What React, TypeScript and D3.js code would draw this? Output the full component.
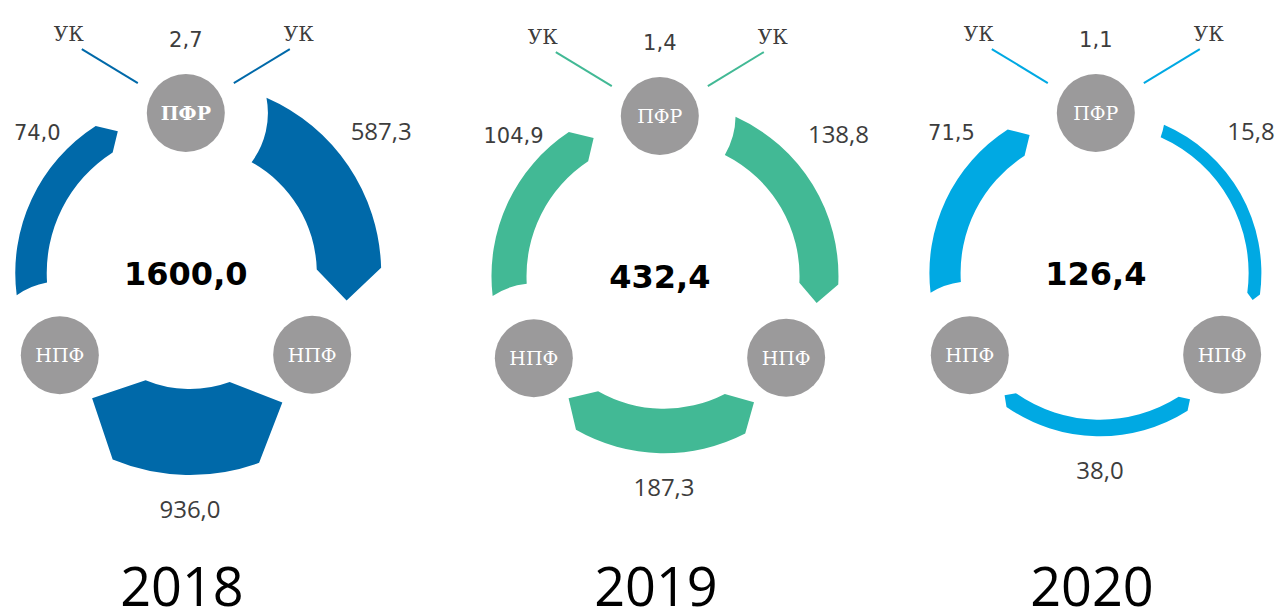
import React from "react";
import * as d3 from "d3";

// ---- data ----
const years = ["2018", "2019", "2020"];
const totals = [1600.0, 432.4, 126.4];
const toUK = [2.7, 1.4, 1.1];
const npfToPfr = [74.0, 104.9, 71.5]; // left arc: НПФ -> ПФР
const pfrToNpf = [587.3, 138.8, 15.8]; // right arc: ПФР -> НПФ
const npfToNpf = [936.0, 187.3, 38.0]; // bottom arc: НПФ <-> НПФ
const seriesColors = ["#0069a9", "#42b995", "#00a9e3"];

// ---- layout ----
const W = 1281;
const H = 611;
const panels = [
  { cx: 190, cy: 273, r: 159 },
  { cx: 664, cy: 276, r: 155 },
  { cx: 1100, cy: 273, r: 155 },
];
const nodePfr = { a: -1.5, r: 160 };
const nodeNpfLeft = { a: 237.7, r: 154 };
const nodeNpfRight = { a: 123.8, r: 147 };
const NODE_R = 39;
const TIP_LEFT = 333;
const TIP_RIGHT = 100;
const TIP_BOTTOM_R = 144.5;
const TIP_BOTTOM_L = 218;

const widthScale = d3
  .scaleLinear()
  .domain([0, 40, 70, 200, 600, 1000])
  .range([10, 17, 31, 46, 65, 90]);

const fmt = d3.formatLocale({
  decimal: ",",
  thousands: " ",
  grouping: [3],
  currency: ["", ""],
}).format(".1f");

const SERIF = "'DejaVu Serif', serif";
const DSANS = "'DejaVu Sans', sans-serif";
const SANS = "'Open Sans', 'Noto Sans', sans-serif";
const TXT = "#3d3d3d";

const rad = (a: number) => (a * Math.PI) / 180;
function pt(cx: number, cy: number, r: number, a: number): [number, number] {
  return [cx + r * Math.sin(rad(a)), cy - r * Math.cos(rad(a))];
}
const ca = (a: number) => rad(a - 90);

function tailAngle(rn: number, an: number, rho: number, R: number) {
  const c = (rn * rn + rho * rho - R * R) / (2 * rn * rho);
  return an + (Math.acos(Math.max(-1, Math.min(1, c))) * 180) / Math.PI;
}

function flowArc(
  cx: number,
  cy: number,
  rMid: number,
  w: number,
  src: { a: number; r: number },
  tipA: number
) {
  const rO = rMid + w / 2;
  const rI = rMid - w / 2;
  const R = 66 + w / 4;
  const d = ((w / 2) / rMid) * (180 / Math.PI);
  const aO = tailAngle(src.r, src.a, rO, R);
  const aI = tailAngle(src.r, src.a, rI, R);
  const aH = tipA - d;
  const p = d3.path();
  const [x0, y0] = pt(cx, cy, rO, aO);
  p.moveTo(x0, y0);
  p.arc(cx, cy, rO, ca(aO), ca(aH), false);
  const [tx, ty] = pt(cx, cy, rMid, tipA);
  p.lineTo(tx, ty);
  const [ix, iy] = pt(cx, cy, rI, aH);
  p.lineTo(ix, iy);
  p.arc(cx, cy, rI, ca(aH), ca(aI), true);
  const [nx, ny] = pt(cx, cy, src.r, src.a);
  const [px, py] = pt(cx, cy, rI, aI);
  const phiI = Math.atan2(py - ny, px - nx);
  const phiO = Math.atan2(y0 - ny, x0 - nx);
  let diff = phiO - phiI;
  while (diff > Math.PI) diff -= 2 * Math.PI;
  while (diff < -Math.PI) diff += 2 * Math.PI;
  p.arc(nx, ny, R, phiI, phiO, diff < 0);
  p.closePath();
  return p.toString();
}

function biArc(cx: number, cy: number, rMid: number, w: number, tipR: number, tipL: number) {
  const rO = rMid + w / 2;
  const rI = rMid - w / 2;
  const d = ((w / 2) / rMid) * (180 / Math.PI);
  const aR = tipR + d;
  const aL = tipL - d;
  const p = d3.path();
  const [x0, y0] = pt(cx, cy, rO, aR);
  p.moveTo(x0, y0);
  p.arc(cx, cy, rO, ca(aR), ca(aL), false);
  const [tlx, tly] = pt(cx, cy, rMid, tipL);
  p.lineTo(tlx, tly);
  const [ilx, ily] = pt(cx, cy, rI, aL);
  p.lineTo(ilx, ily);
  p.arc(cx, cy, rI, ca(aL), ca(aR), true);
  const [trx, try_] = pt(cx, cy, rMid, tipR);
  p.lineTo(trx, try_);
  p.closePath();
  return p.toString();
}

function Panel({ i }: { i: number }) {
  const { cx, cy, r } = panels[i];
  const color = seriesColors[i];
  const wL = widthScale(npfToPfr[i]);
  const wR = widthScale(pfrToNpf[i]);
  const wB = widthScale(npfToNpf[i]);
  const [pfx, pfy] = pt(cx, cy, nodePfr.r, nodePfr.a);
  const [nlx, nly] = pt(cx, cy, nodeNpfLeft.r, nodeNpfLeft.a);
  const [nrx, nry] = pt(cx, cy, nodeNpfRight.r, nodeNpfRight.a);
  const rOL = r + wL / 2;
  const rOR = r + wR / 2;
  const rOB = r + wB / 2;
  const labelY = pfy + 27;
  return (
    <g>
      {/* flows to УК */}
      <line x1={pfx - 48} y1={pfy - 30} x2={pfx - 104} y2={pfy - 64} stroke={color} strokeWidth={2} />
      <line x1={pfx + 48} y1={pfy - 30} x2={pfx + 104} y2={pfy - 64} stroke={color} strokeWidth={2} />
      <text x={pfx - 117} y={pfy - 72} textAnchor="middle" fontFamily={SERIF} fontSize={20} fill={TXT}>УК</text>
      <text x={pfx + 113} y={pfy - 72} textAnchor="middle" fontFamily={SERIF} fontSize={20} fill={TXT}>УК</text>
      <text x={pfx} y={pfy - 66} textAnchor="middle" fontFamily={DSANS} fontSize={21} fill={TXT}>{fmt(toUK[i])}</text>

      {/* arcs */}
      <path d={flowArc(cx, cy, r, wL, nodeNpfLeft, TIP_LEFT)} fill={color} />
      <path d={flowArc(cx, cy, r, wR, nodePfr, TIP_RIGHT)} fill={color} />
      <path d={biArc(cx, cy, r, wB, TIP_BOTTOM_R, TIP_BOTTOM_L)} fill={color} />

      {/* nodes */}
      <circle cx={pfx} cy={pfy} r={NODE_R} fill="#9b9a9b" />
      <text x={pfx} y={pfy + 7} textAnchor="middle" fontFamily={SERIF} fontSize={19} fontWeight={i === 0 ? "bold" : "normal"} fill="#fff">ПФР</text>
      <circle cx={nlx} cy={nly} r={NODE_R} fill="#9b9a9b" />
      <text x={nlx} y={nly + 7} textAnchor="middle" fontFamily={SERIF} fontSize={19} fill="#fff">НПФ</text>
      <circle cx={nrx} cy={nry} r={NODE_R} fill="#9b9a9b" />
      <text x={nrx} y={nry + 7} textAnchor="middle" fontFamily={SERIF} fontSize={19} fill="#fff">НПФ</text>

      {/* value labels */}
      <text x={cx - (rOL - 22)} y={labelY} textAnchor="middle" fontFamily={DSANS} fontSize={21} fill={TXT}>{fmt(npfToPfr[i])}</text>
      <text x={Math.min(cx + rOR, W - 30)} y={labelY} textAnchor="middle" fontFamily={SANS} fontSize={24} fill={TXT}>{fmt(pfrToNpf[i])}</text>
      <text x={cx} y={cy + rOB + 43} textAnchor="middle" fontFamily={SANS} fontSize={24} fill={TXT}>{fmt(npfToNpf[i])}</text>

      {/* total */}
      <text x={pfx} y={cy + 12} textAnchor="middle" fontFamily={DSANS} fontWeight="bold" fontSize={32} fill="#000">{fmt(totals[i])}</text>

      {/* year */}
      <text x={cx - 8} y={606} textAnchor="middle" fontFamily={SANS} fontSize={54} fill="#000">{years[i]}</text>
    </g>
  );
}

export default function App() {
  return (
    <svg
      width={W}
      height={H}
      viewBox={`0 0 ${W} ${H}`}
      style={{ position: "absolute", left: 0, top: 0, background: "#fff" }}
    >
      <rect width={W} height={H} fill="#fff" />
      {years.map((_, i) => (
        <Panel key={i} i={i} />
      ))}
    </svg>
  );
}
